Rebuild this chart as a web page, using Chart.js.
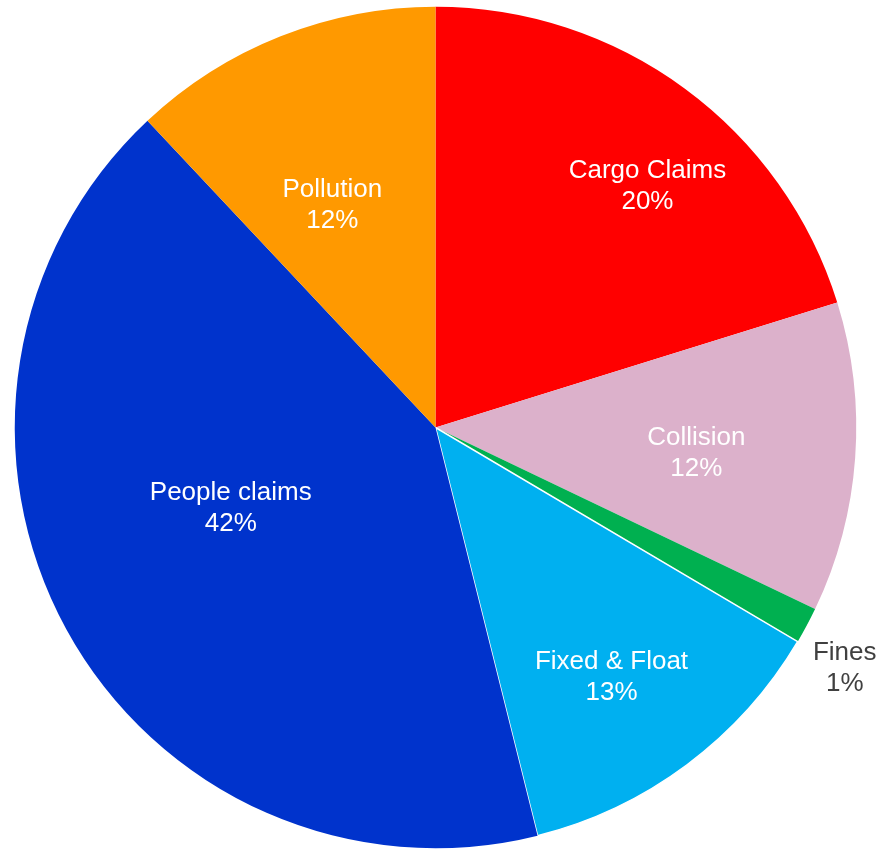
<!DOCTYPE html>
<html>
<head>
<meta charset="utf-8">
<script src="https://cdn.jsdelivr.net/npm/chart.js@4"></script>
<style>
  html, body { margin: 0; padding: 0; background: #ffffff; }
  #wrap { width: 882px; height: 849px; position: relative; }
</style>
</head>
<body>
<div id="wrap"><canvas id="c" width="882" height="849"></canvas></div>
<script>
const categories = ["Cargo Claims", "Collision", "Fines", "Fixed & Float", "People claims", "Pollution"];
const shares = [20.2, 11.9, 1.4, 12.6, 41.9, 12.0];

const sliceColors = ["#FF0000", "#DCB1CB", "#00B050", "#00B0F0", "#0033CC", "#FF9900"];
const sliceBorders = [0, 0, 0, 1.5, 0, 0];
const labelColors = ["#FFFFFF", "#FFFFFF", "#404040", "#FFFFFF", "#FFFFFF", "#FFFFFF"];
// label placement: angle nudge (deg) from slice middle, radius factor
const labelNudge = [[4.5, 0.77], [0.7, 0.622], [2, 1.124], [1.2, 0.72], [8, 0.52], [-3, 0.589]];

const labelPlugin = {
  id: 'sliceLabels',
  afterDatasetsDraw(chart) {
    const ctx = chart.ctx;
    const meta = chart.getDatasetMeta(0);
    const data = chart.data.datasets[0].data;
    const total = data.reduce((a, b) => a + b, 0);
    ctx.save();
    ctx.font = '26px "Liberation Sans", Arial, sans-serif';
    ctx.textAlign = 'center';
    ctx.textBaseline = 'middle';
    meta.data.forEach((arc, i) => {
      const p = arc.getProps(['x', 'y', 'startAngle', 'endAngle', 'outerRadius'], true);
      const mid = (p.startAngle + p.endAngle) / 2 + labelNudge[i][0] * Math.PI / 180;
      const r = p.outerRadius * labelNudge[i][1];
      const cx = p.x + Math.cos(mid) * r;
      const cy = p.y + Math.sin(mid) * r;
      const pct = Math.round(data[i] / total * 100) + '%';
      ctx.fillStyle = labelColors[i];
      ctx.fillText(chart.data.labels[i], cx, cy - 12);
      ctx.fillText(pct, cx, cy + 19);
    });
    ctx.restore();
  }
};

new Chart(document.getElementById('c'), {
  type: 'pie',
  data: {
    labels: categories,
    datasets: [{
      data: shares,
      backgroundColor: sliceColors,
      borderColor: '#FFFFFF',
      borderWidth: sliceBorders,
      hoverOffset: 0
    }]
  },
  options: {
    responsive: false,
    animation: false,
    events: [],
    layout: { padding: { left: 14, right: 25, top: 6, bottom: 0 } },
    plugins: {
      legend: { display: false },
      tooltip: { enabled: false }
    }
  },
  plugins: [labelPlugin]
});
</script>
</body>
</html>
